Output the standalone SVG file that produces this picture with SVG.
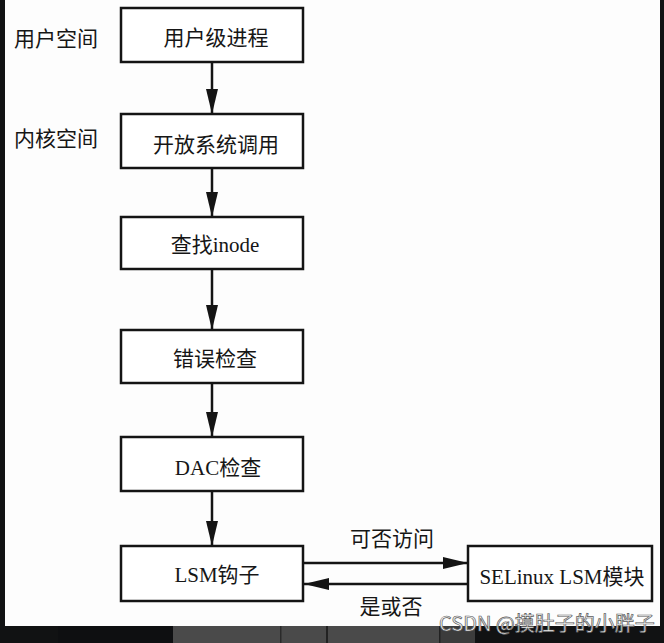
<svg xmlns="http://www.w3.org/2000/svg" width="664" height="643" viewBox="0 0 664 643">
<style>
.box{fill:#fff;stroke:#141414;stroke-width:2.5}
.t{font-family:"Liberation Serif","Noto Sans CJK SC",serif;font-size:21px;fill:#161616;text-anchor:middle}
.lab{font-family:"Liberation Serif","Noto Sans CJK SC",serif;font-size:21px;fill:#161616}
.ln{stroke:#141414;stroke-width:2.5;fill:none}
.wm{font-family:"Noto Sans CJK SC","Noto Sans",sans-serif;font-size:20px;fill:#f4f4f4;stroke:#5a5a5a;stroke-width:0.7}
</style>
<defs>
<marker id="ah" viewBox="0 0 25 12" refX="25" refY="6" markerWidth="25" markerHeight="12" markerUnits="userSpaceOnUse" orient="auto">
<path d="M0,0 L25,6 L0,12 Z" fill="#141414"/>
</marker>
</defs>
<rect x="0" y="0" width="664" height="643" fill="#fdfdfd"/>
<rect x="0" y="0" width="5" height="643" fill="#111213"/>
<rect x="660" y="0" width="4" height="643" fill="#111213"/>
<g id="bottom-strip">
<rect x="0" y="626" width="664" height="17" fill="#111213"/>
<rect x="58" y="626" width="115" height="17" fill="#0e0f11"/>
<rect x="173" y="626" width="266" height="17" fill="#4a4a4a"/>
<rect x="280" y="626" width="1.5" height="17" fill="#2a2a2a"/>
<rect x="326" y="626" width="2" height="17" fill="#222"/>
<rect x="439" y="626" width="36" height="17" fill="#3c3c3c"/>
<rect x="439" y="626" width="1.5" height="17" fill="#222"/>
</g>
<g id="labels">
<text class="lab" x="14" y="46">用户空间</text>
<text class="lab" x="14" y="146">内核空间</text>
</g>
<g id="connectors">
<line class="ln" x1="212" y1="62" x2="212" y2="114" marker-end="url(#ah)"/>
<line class="ln" x1="212" y1="168" x2="212" y2="217" marker-end="url(#ah)"/>
<line class="ln" x1="212" y1="269" x2="212" y2="330" marker-end="url(#ah)"/>
<line class="ln" x1="212" y1="383" x2="212" y2="437" marker-end="url(#ah)"/>
<line class="ln" x1="212" y1="491" x2="212" y2="546" marker-end="url(#ah)"/>
<line class="ln" x1="303" y1="563" x2="468" y2="563" marker-end="url(#ah)"/>
<line class="ln" x1="468" y1="584" x2="304" y2="584" marker-end="url(#ah)"/>
<text class="t" x="392" y="546">可否访问</text>
<text class="t" x="391" y="614">是或否</text>
</g>
<g id="n1"><rect class="box" x="121" y="8" width="182" height="54"/><text class="t" x="216" y="45">用户级进程</text></g>
<g id="n2"><rect class="box" x="121" y="114" width="182" height="54"/><text class="t" x="216" y="152">开放系统调用</text></g>
<g id="n3"><rect class="box" x="121" y="217" width="182" height="52"/><text class="t" x="215" y="252">查找inode</text></g>
<g id="n4"><rect class="box" x="121" y="330" width="182" height="53"/><text class="t" x="215" y="366">错误检查</text></g>
<g id="n5"><rect class="box" x="121" y="437" width="182" height="54"/><text class="t" x="218" y="475">DAC检查</text></g>
<g id="n6"><rect class="box" x="121" y="546" width="182" height="55"/><text class="t" x="217" y="582">LSM钩子</text></g>
<g id="n7"><rect class="box" x="468" y="546" width="184" height="55"/><text class="t" x="562" y="584">SELinux LSM模块</text></g>
<text class="wm" x="439" y="631">CSDN @摸肚子的小胖子</text>
</svg>
